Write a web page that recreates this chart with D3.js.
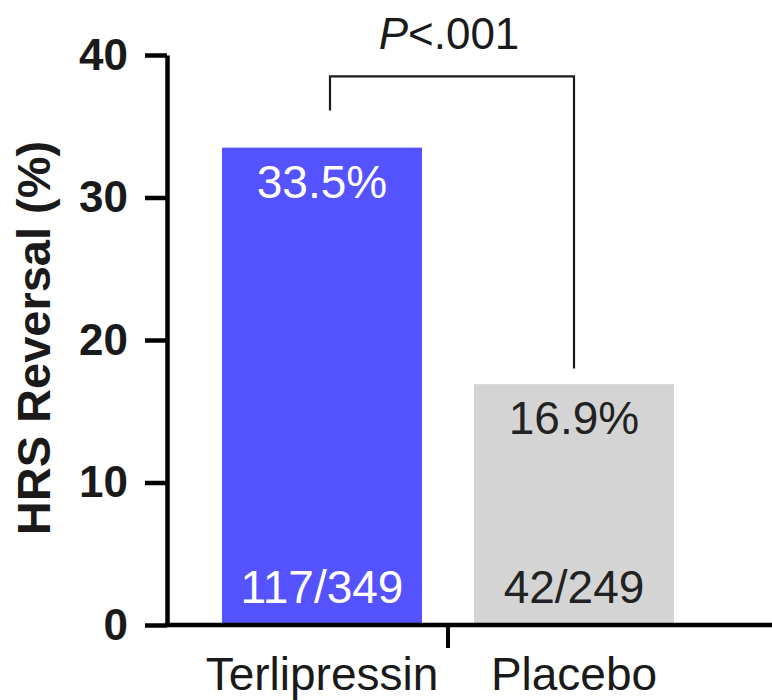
<!DOCTYPE html>
<html>
<head>
<meta charset="utf-8">
<script src="https://cdn.jsdelivr.net/npm/d3@7"></script>
<style>
  html, body { margin: 0; padding: 0; background: #fff; }
  svg { display: block; font-family: "Liberation Sans", Arial, Helvetica, sans-serif; }
</style>
</head>
<body>
<svg id="chart" width="772" height="700"></svg>
<script>
// ---- data ----
const categories = ["Terlipressin", "Placebo"];
const values = [33.5, 16.9];
const valueLabels = ["33.5%", "16.9%"];
const countLabels = ["117/349", "42/249"];
const yTicks = [0, 10, 20, 30, 40];
const yTitle = "HRS Reversal (%)";
const pValueText = "<.001";
const bracketTop = 38.5;
const bracketEnds = [36.1, 18.0];

// ---- styles ----
const barColors = ["#5553FF", "#D4D4D4"];
const labelColors = ["#FFFFFF", "#222222"];
const W = 772, H = 700;
const axisX = 167;

const svg = d3.select("#chart");

const y = d3.scaleLinear().domain([0, 40]).range([625, 55]);
const x = d3.scaleBand()
  .domain(categories)
  .range([196, 700])
  .paddingInner(52 / 252)
  .paddingOuter(26 / 252);

// bars
svg.selectAll("rect.bar")
  .data(categories)
  .join("rect")
  .attr("class", "bar")
  .attr("x", d => x(d))
  .attr("width", x.bandwidth())
  .attr("y", (d, i) => y(values[i]))
  .attr("height", (d, i) => y(0) - y(values[i]))
  .attr("fill", (d, i) => barColors[i]);

// value labels
svg.selectAll("text.val")
  .data(categories)
  .join("text")
  .attr("class", "val")
  .attr("x", d => x(d) + x.bandwidth() / 2)
  .attr("y", (d, i) => y(values[i]) + 50)
  .attr("text-anchor", "middle")
  .attr("font-size", 46)
  .attr("fill", (d, i) => labelColors[i])
  .text((d, i) => valueLabels[i]);

// count labels
svg.selectAll("text.cnt")
  .data(categories)
  .join("text")
  .attr("class", "cnt")
  .attr("x", d => x(d) + x.bandwidth() / 2)
  .attr("y", y(0) - 22)
  .attr("text-anchor", "middle")
  .attr("font-size", 46)
  .attr("fill", (d, i) => labelColors[i])
  .text((d, i) => countLabels[i]);

// y axis
const yAxis = d3.axisLeft(y).tickValues(yTicks).tickSize(22).tickSizeOuter(0).tickPadding(17);
const gy = svg.append("g").attr("transform", `translate(${axisX},0)`).call(yAxis);
gy.select(".domain").attr("stroke", "#000").attr("stroke-width", 4.5);
gy.selectAll(".tick line").attr("stroke", "#000").attr("stroke-width", 4.5);
gy.selectAll(".tick text")
  .attr("font-size", 44)
  .attr("font-weight", "bold")
  .attr("fill", "#1a1a1a")
  .attr("font-family", "'Liberation Sans', Arial, sans-serif");

// x axis line
svg.append("line")
  .attr("x1", axisX - 2.25).attr("x2", W)
  .attr("y1", y(0)).attr("y2", y(0))
  .attr("stroke", "#000").attr("stroke-width", 4.5);

// x tick between categories
const midX = x(categories[0]) + x.bandwidth() + (x.step() * x.paddingInner()) / 2;
svg.append("line")
  .attr("x1", midX).attr("x2", midX)
  .attr("y1", y(0)).attr("y2", y(0) + 23)
  .attr("stroke", "#000").attr("stroke-width", 4);

// category labels
svg.selectAll("text.cat")
  .data(categories)
  .join("text")
  .attr("class", "cat")
  .attr("x", d => x(d) + x.bandwidth() / 2)
  .attr("y", y(0) + 65)
  .attr("text-anchor", "middle")
  .attr("font-size", 46)
  .attr("fill", "#1a1a1a")
  .text(d => d);

// y title
svg.append("text")
  .attr("transform", `translate(50,338) rotate(-90)`)
  .attr("text-anchor", "middle")
  .attr("font-size", 47)
  .attr("font-weight", "bold")
  .attr("fill", "#1a1a1a")
  .text(yTitle);

// significance bracket
const bxOffsets = [8, 0];
const bx = categories.map((c, i) => x(c) + x.bandwidth() / 2 + bxOffsets[i]);
const bracketPath = d3.path();
bracketPath.moveTo(bx[0], y(bracketEnds[0]));
bracketPath.lineTo(bx[0], y(bracketTop));
bracketPath.lineTo(bx[1], y(bracketTop));
bracketPath.lineTo(bx[1], y(bracketEnds[1]));
svg.append("path")
  .attr("d", bracketPath.toString())
  .attr("fill", "none")
  .attr("stroke", "#1a1a1a")
  .attr("stroke-width", 2.2);

const pText = svg.append("text")
  .attr("x", (bx[0] + bx[1]) / 2 - 3)
  .attr("y", 49)
  .attr("text-anchor", "middle")
  .attr("font-size", 44)
  .attr("fill", "#1a1a1a");
pText.append("tspan").attr("font-style", "italic").text("P");
pText.append("tspan").text(pValueText);
</script>
</body>
</html>
